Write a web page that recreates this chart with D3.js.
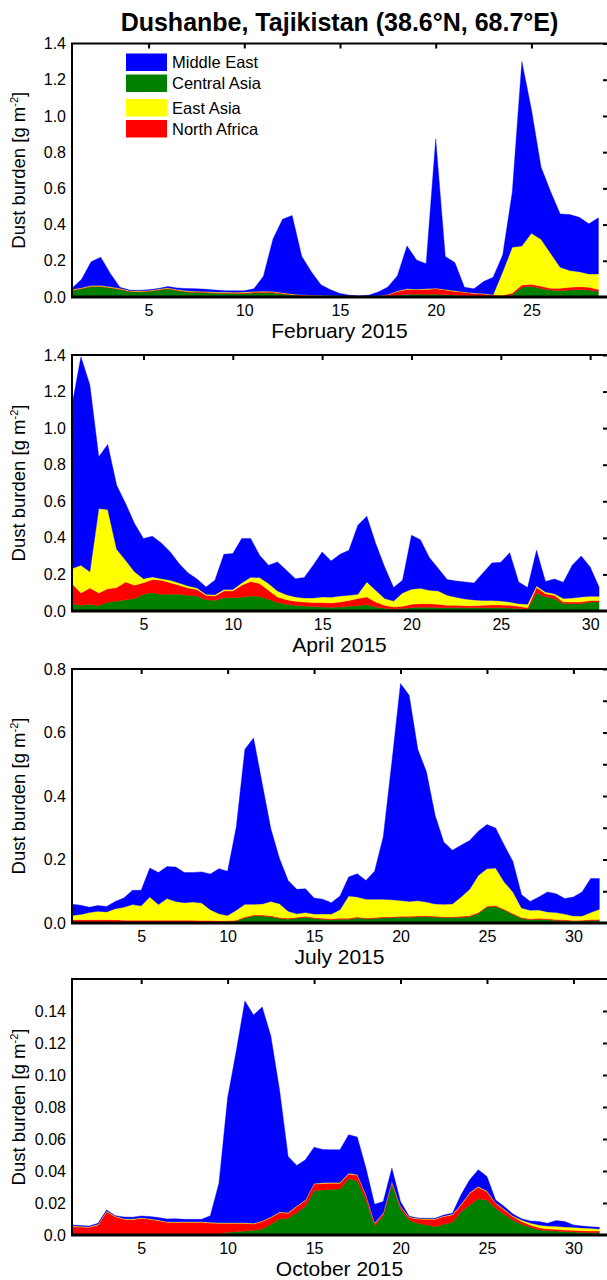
<!DOCTYPE html>
<html>
<head>
	<meta charset="utf-8">
	<title>Dust burden - Dushanbe</title>
	<style type="text/css">
		body {
			margin: 0;
			background: #fff;
		}
		svg {
			display: block;
			font-family: 'Liberation Sans', Arial, sans-serif;
		}
	</style>
	<script src="https://d3js.org/d3.v7.min.js"></script>
</head>
<body>
	<svg width="607" height="1280"></svg>
	<script type="text/javascript">
		// source regions, legend order
		var legendNames = ['Middle East', 'Central Asia', 'East Asia', 'North Africa'];
		var legendColors = ['#0000ff', '#008000', '#ffff00', '#ff0000'];
		// stacking order, bottom to top
		var stackKeys = ['ca', 'na', 'ea', 'me'];
		var stackColors = ['#008000', '#ff0000', '#ffff00', '#0000ff'];

		var monthNames = ['February 2015', 'April 2015', 'July 2015', 'October 2015'];
		var monthDays = [28, 30, 31, 31];
		var yMax = [1.4, 1.4, 0.8, 0.16];
		var yLabelMax = [1.4, 1.4, 0.8, 0.14];
		var yLabelStep = [0.2, 0.2, 0.2, 0.02];
		var yRightStep = [0.2, 0.2, 0.1, 0.02];

		// dust burden [g m-2], half-daily values starting on day 1
		var febCentralAsia = [0.035,0.045,0.057,0.057,0.050,0.042,0.030,0.028,0.030,0.038,
			0.045,0.035,0.028,0.026,0.024,0.021,0.021,0.020,0.020,0.022,
			0.023,0.022,0.017,0.011,0.008,0.006,0.004,0.004,0.003,0.002,
			0.002,0.002,0.003,0.005,0.010,0.015,0.015,0.015,0.015,0.012,
			0.010,0.008,0.007,0.006,0.004,0.004,0.012,0.054,0.060,0.047,
			0.038,0.035,0.038,0.042,0.038,0.030];
		var febNorthAfrica = [0.003,0.003,0.003,0.003,0.003,0.003,0.003,0.003,0.003,0.003,
			0.003,0.003,0.003,0.003,0.003,0.003,0.003,0.003,0.004,0.005,
			0.005,0.005,0.004,0.003,0.003,0.003,0.003,0.002,0.002,0.002,
			0.001,0.002,0.003,0.007,0.020,0.027,0.025,0.027,0.031,0.027,
			0.021,0.018,0.013,0.011,0.007,0.005,0.010,0.012,0.010,0.013,
			0.010,0.013,0.016,0.015,0.016,0.012];
		var febEastAsia = [0.003,0.003,0.003,0.003,0.003,0.003,0.003,0.003,0.003,0.003,
			0.003,0.003,0.003,0.003,0.003,0.003,0.003,0.003,0.004,0.004,
			0.004,0.004,0.003,0.003,0.002,0.002,0.002,0.002,0.002,0.001,
			0.001,0.001,0.001,0.002,0.003,0.003,0.003,0.003,0.003,0.003,
			0.003,0.002,0.002,0.002,0.002,0.131,0.253,0.216,0.282,0.259,
			0.194,0.116,0.092,0.083,0.073,0.085];
		var febMiddleEast = [0.007,0.047,0.132,0.157,0.074,0.006,0.002,0.003,0.004,0.003,
			0.007,0.009,0.013,0.014,0.013,0.011,0.008,0.008,0.006,0.014,
			0.083,0.289,0.406,0.433,0.212,0.129,0.059,0.032,0.013,0.005,
			0.002,0.005,0.021,0.041,0.085,0.237,0.162,0.138,0.824,0.181,
			0.156,0.026,0.023,0.066,0.096,0.092,0.305,1.018,0.683,0.399,
			0.341,0.295,0.309,0.300,0.277,0.310];

		var aprCentralAsia = [0.040,0.031,0.037,0.029,0.049,0.053,0.062,0.068,0.091,0.100,
			0.091,0.091,0.091,0.086,0.082,0.062,0.058,0.073,0.073,0.077,
			0.082,0.080,0.064,0.046,0.037,0.031,0.027,0.024,0.022,0.020,
			0.022,0.026,0.029,0.035,0.022,0.015,0.011,0.013,0.018,0.020,
			0.020,0.018,0.018,0.018,0.018,0.018,0.018,0.018,0.018,0.016,
			0.013,0.009,0.099,0.077,0.068,0.040,0.040,0.040,0.049,0.049];
		var aprNorthAfrica = [0.110,0.068,0.089,0.070,0.073,0.075,0.097,0.073,0.064,0.072,
			0.077,0.064,0.050,0.040,0.035,0.024,0.024,0.037,0.037,0.064,
			0.080,0.070,0.049,0.031,0.025,0.022,0.022,0.022,0.024,0.024,
			0.027,0.032,0.039,0.042,0.027,0.016,0.011,0.013,0.019,0.020,
			0.020,0.019,0.013,0.013,0.011,0.011,0.013,0.015,0.015,0.015,
			0.013,0.009,0.029,0.018,0.018,0.009,0.009,0.009,0.009,0.009];
		var aprEastAsia = [0.082,0.151,0.088,0.461,0.433,0.210,0.118,0.073,0.022,0.014,
			0.009,0.013,0.012,0.011,0.009,0.005,0.007,0.007,0.007,0.012,
			0.022,0.033,0.037,0.033,0.027,0.024,0.022,0.025,0.031,0.031,
			0.033,0.028,0.023,0.082,0.064,0.037,0.033,0.073,0.082,0.084,
			0.073,0.073,0.055,0.044,0.037,0.031,0.027,0.024,0.022,0.018,
			0.014,0.019,0.009,0.009,0.009,0.019,0.022,0.028,0.022,0.022];
		var aprMiddleEast = [0.894,1.140,1.022,0.283,0.356,0.350,0.311,0.264,0.219,0.223,
			0.195,0.155,0.106,0.071,0.049,0.040,0.079,0.193,0.197,0.243,
			0.212,0.122,0.100,0.158,0.134,0.100,0.112,0.179,0.246,0.199,
			0.228,0.246,0.378,0.359,0.256,0.173,0.073,0.069,0.295,0.266,
			0.179,0.122,0.086,0.089,0.093,0.093,0.150,0.206,0.211,0.270,
			0.119,0.091,0.195,0.058,0.080,0.089,0.179,0.224,0.161,0.051];

		var julCentralAsia = [0.002,0.002,0.002,0.002,0.002,0.002,0.002,0.002,0.002,0.002,
			0.002,0.002,0.002,0.002,0.002,0.002,0.002,0.002,0.002,0.006,
			0.016,0.022,0.022,0.020,0.014,0.012,0.015,0.018,0.014,0.012,
			0.010,0.012,0.012,0.016,0.013,0.014,0.016,0.017,0.018,0.018,
			0.019,0.020,0.018,0.017,0.017,0.018,0.020,0.030,0.050,0.052,
			0.040,0.027,0.014,0.010,0.012,0.010,0.008,0.007,0.005,0.006,
			0.008,0.008];
		var julNorthAfrica = [0.008,0.008,0.008,0.008,0.008,0.008,0.007,0.007,0.007,0.007,
			0.007,0.007,0.007,0.007,0.007,0.006,0.006,0.005,0.005,0.003,
			0.003,0.003,0.003,0.003,0.003,0.003,0.003,0.003,0.003,0.003,
			0.003,0.003,0.003,0.003,0.003,0.003,0.003,0.003,0.003,0.003,
			0.003,0.003,0.003,0.003,0.003,0.003,0.003,0.003,0.003,0.003,
			0.003,0.003,0.003,0.003,0.003,0.003,0.003,0.003,0.003,0.003,
			0.003,0.003];
		var julEastAsia = [0.014,0.017,0.023,0.027,0.025,0.035,0.041,0.049,0.045,0.073,
			0.049,0.068,0.059,0.055,0.057,0.055,0.034,0.022,0.017,0.031,
			0.040,0.034,0.035,0.045,0.044,0.022,0.011,0.012,0.011,0.013,
			0.015,0.027,0.070,0.063,0.059,0.058,0.056,0.053,0.050,0.047,
			0.048,0.043,0.039,0.039,0.040,0.061,0.083,0.117,0.118,0.118,
			0.086,0.068,0.030,0.027,0.026,0.022,0.022,0.018,0.014,0.013,
			0.022,0.032];
		var julMiddleEast = [0.035,0.029,0.017,0.018,0.017,0.023,0.029,0.045,0.049,0.091,
			0.101,0.101,0.108,0.095,0.093,0.098,0.112,0.142,0.139,0.262,
			0.488,0.524,0.379,0.229,0.142,0.097,0.077,0.075,0.051,0.047,
			0.036,0.043,0.060,0.073,0.059,0.088,0.196,0.434,0.683,0.649,
			0.477,0.410,0.279,0.196,0.169,0.163,0.154,0.139,0.139,0.126,
			0.116,0.096,0.042,0.028,0.041,0.063,0.059,0.049,0.060,0.076,
			0.107,0.097];

		var octCentralAsia = [0.0001,0.0001,0.0001,0.0001,0.0001,0.0001,0.0001,0.0001,0.0001,0.0001,
			0.0001,0.0001,0.0001,0.0001,0.0001,0.0003,0.0006,0.0010,0.0017,0.0021,
			0.0025,0.0029,0.0038,0.0067,0.0100,0.0104,0.0140,0.0180,0.0276,0.0282,
			0.0286,0.0288,0.0351,0.0339,0.0219,0.0059,0.0121,0.0318,0.0163,0.0094,
			0.0073,0.0063,0.0052,0.0067,0.0079,0.0146,0.0188,0.0226,0.0219,0.0167,
			0.0130,0.0094,0.0067,0.0048,0.0033,0.0027,0.0025,0.0021,0.0019,0.0017,
			0.0015,0.0015];
		var octNorthAfrica = [0.0051,0.0049,0.0047,0.0062,0.0145,0.0114,0.0097,0.0095,0.0103,0.0097,
			0.0089,0.0078,0.0078,0.0078,0.0078,0.0076,0.0069,0.0063,0.0056,0.0052,
			0.0048,0.0040,0.0046,0.0042,0.0040,0.0032,0.0038,0.0035,0.0042,0.0040,
			0.0038,0.0036,0.0031,0.0035,0.0032,0.0014,0.0012,0.0013,0.0015,0.0015,
			0.0027,0.0036,0.0046,0.0048,0.0046,0.0042,0.0073,0.0073,0.0052,0.0031,
			0.0027,0.0021,0.0017,0.0015,0.0013,0.0011,0.0011,0.0010,0.0010,0.0010,
			0.0010,0.0010];
		var octEastAsia = [0.0004,0.0004,0.0004,0.0004,0.0004,0.0004,0.0004,0.0004,0.0004,0.0004,
			0.0004,0.0004,0.0004,0.0004,0.0004,0.0004,0.0004,0.0004,0.0004,0.0004,
			0.0004,0.0004,0.0004,0.0004,0.0004,0.0004,0.0004,0.0004,0.0004,0.0004,
			0.0004,0.0004,0.0004,0.0004,0.0004,0.0004,0.0004,0.0004,0.0004,0.0004,
			0.0004,0.0004,0.0004,0.0004,0.0004,0.0004,0.0004,0.0004,0.0004,0.0004,
			0.0004,0.0004,0.0010,0.0012,0.0017,0.0018,0.0018,0.0019,0.0019,0.0017,
			0.0017,0.0013];
		var octMiddleEast = [0.0007,0.0005,0.0004,0.0006,0.0007,0.0002,0.0011,0.0011,0.0011,0.0013,
			0.0015,0.0017,0.0019,0.0015,0.0015,0.0015,0.0042,0.0247,0.0780,0.1073,
			0.1386,0.1302,0.1337,0.1130,0.0765,0.0351,0.0253,0.0251,0.0226,0.0209,
			0.0205,0.0205,0.0241,0.0234,0.0163,0.0115,0.0072,0.0083,0.0027,0.0004,
			0.0002,0.0002,0.0002,0.0006,0.0007,0.0059,0.0080,0.0105,0.0091,0.0017,
			0.0017,0.0013,0.0008,0.0013,0.0021,0.0017,0.0036,0.0034,0.0015,0.0012,
			0.0010,0.0010];

		var monthSeries = [
			[febCentralAsia, febNorthAfrica, febEastAsia, febMiddleEast],
			[aprCentralAsia, aprNorthAfrica, aprEastAsia, aprMiddleEast],
			[julCentralAsia, julNorthAfrica, julEastAsia, julMiddleEast],
			[octCentralAsia, octNorthAfrica, octEastAsia, octMiddleEast]];

		// layout
		var svgCanvas = d3.select('svg');
		var plotLeft = 72, plotRight = 608;
		var panelTop = [43.5, 355, 669, 979];
		var panelBottom = [297, 611, 923, 1235];

		svgCanvas.append('text')
			.attr('x', (plotLeft + 607) / 2)
			.attr('y', 31)
			.attr('text-anchor', 'middle')
			.attr('font-size', '25px')
			.attr('font-weight', 'bold')
			.text('Dushanbe, Tajikistan (38.6°N, 68.7°E)');

		var stack = d3.stack().keys(stackKeys);

		monthNames.forEach((month, p) => {
			var top = panelTop[p], bottom = panelBottom[p];
			var series = monthSeries[p];

			var rows = series[0].map((v, i) => ({
				t: 1 + i / 2,
				ca: series[0][i], na: series[1][i], ea: series[2][i], me: series[3][i]}));

			var x = d3.scaleLinear().domain([1, monthDays[p] + 1]).range([plotLeft, plotRight]);
			var y = d3.scaleLinear().domain([0, yMax[p]]).range([bottom, top]);

			var g = svgCanvas.append('g');

			g.append('clipPath')
				.attr('id', 'clip' + p)
				.append('rect')
				.attr('x', plotLeft).attr('y', top)
				.attr('width', plotRight - plotLeft).attr('height', bottom - top);

			var area = d3.area()
				.x((d) => x(d.data.t))
				.y0((d) => y(d[0]))
				.y1((d) => y(d[1]));

			g.append('g')
				.attr('clip-path', 'url(#clip' + p + ')')
				.selectAll('path')
				.data(stack(rows))
				.enter()
				.append('path')
				.attr('d', area)
				.attr('fill', (d, i) => stackColors[i])
				.attr('stroke', (d, i) => stackColors[i])
				.attr('stroke-width', 0.4);

			// top ticks (inward)
			var xTicks = d3.range(5, monthDays[p] + 1, 5);
			var topAxis = g.append('g')
				.attr('transform', 'translate(0,' + top + ')')
				.call(d3.axisTop(x).tickValues(xTicks).tickSize(-5).tickFormat(''));
			topAxis.select('.domain').remove();
			topAxis.selectAll('line').attr('stroke-width', 2);

			// bottom labels
			var bottomAxis = g.append('g')
				.attr('transform', 'translate(0,' + bottom + ')')
				.call(d3.axisBottom(x).tickValues(xTicks).tickSize(0).tickPadding(8));
			bottomAxis.select('.domain').remove();
			bottomAxis.selectAll('text')
				.attr('font-size', '16px')
				.attr('font-family', null)
				.attr('fill', '#000');

			// right ticks (inward)
			var rightTicks = d3.range(yRightStep[p], yLabelMax[p] + 1e-9, yRightStep[p]);
			var rightAxis = g.append('g')
				.attr('transform', 'translate(' + plotRight + ',0)')
				.call(d3.axisRight(y).tickValues(rightTicks).tickSize(-5).tickFormat(''));
			rightAxis.select('.domain').remove();
			rightAxis.selectAll('line').attr('stroke-width', 2);

			// left labels
			var leftTicks = d3.range(0, yLabelMax[p] + 1e-9, yLabelStep[p]);
			var fmt = p === 3 ? (d) => (d === 0 ? '0.0' : d3.format('.2f')(d)) : d3.format('.1f');
			var leftAxis = g.append('g')
				.attr('transform', 'translate(' + (plotLeft - 6) + ',0)')
				.call(d3.axisLeft(y).tickValues(leftTicks).tickSize(0).tickPadding(0).tickFormat(fmt));
			leftAxis.select('.domain').remove();
			leftAxis.selectAll('text')
				.attr('font-size', '16px')
				.attr('font-family', null)
				.attr('fill', '#000');

			// frame
			g.append('line')
				.attr('x1', plotLeft - 1).attr('x2', plotRight)
				.attr('y1', top).attr('y2', top)
				.attr('stroke', '#000').attr('stroke-width', 2);
			g.append('line')
				.attr('x1', plotLeft).attr('x2', plotLeft)
				.attr('y1', top).attr('y2', bottom)
				.attr('stroke', '#000').attr('stroke-width', 2);
			g.append('line')
				.attr('x1', plotLeft - 1).attr('x2', plotRight)
				.attr('y1', bottom).attr('y2', bottom)
				.attr('stroke', '#000').attr('stroke-width', 3);

			// axis titles
			g.append('text')
				.attr('x', (plotLeft + 607) / 2)
				.attr('y', bottom + 41)
				.attr('text-anchor', 'middle')
				.attr('font-size', '21px')
				.text(month);

			var yTitle = g.append('text')
				.attr('transform', 'translate(19,' + ((top + bottom) / 2) + ') rotate(-90)')
				.attr('text-anchor', 'middle')
				.attr('dy', '0.35em')
				.attr('font-size', '18.5px');
			yTitle.append('tspan').text('Dust burden [g m');
			yTitle.append('tspan').attr('dy', -7).attr('font-size', '11px').text('-2');
			yTitle.append('tspan').attr('dy', 7).text(']');
		});

		// legend in the first panel
		var legend = svgCanvas.append('g');
		var legendY = [53.5, 74.5, 99, 120];
		legendNames.forEach((name, i) => {
			legend.append('rect')
				.attr('x', 126).attr('y', legendY[i])
				.attr('width', 41).attr('height', 17.5)
				.attr('fill', legendColors[i]);
			legend.append('text')
				.attr('x', 172).attr('y', legendY[i] + 9)
				.attr('dy', '0.35em')
				.attr('font-size', '16.5px')
				.text(name);
		});
	</script>
</body>
</html>
